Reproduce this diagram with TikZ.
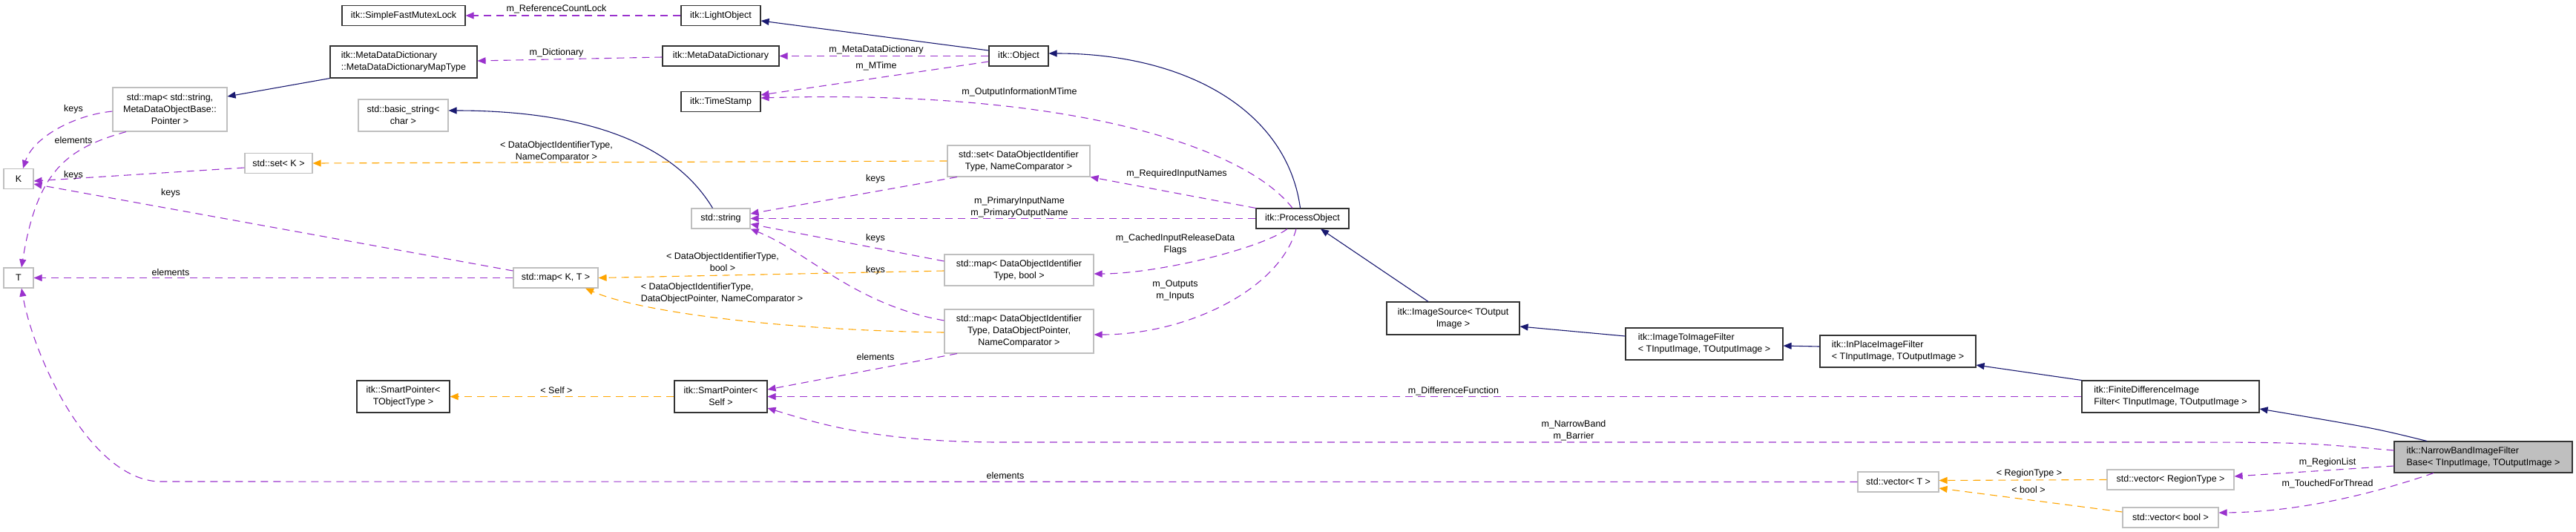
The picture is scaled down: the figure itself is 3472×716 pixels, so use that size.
\documentclass[tikz,border=0pt]{standalone}
\usepackage{fontspec}
\setmainfont{Liberation Sans}
\usetikzlibrary{arrows.meta,positioning}
\definecolor{usecol}{HTML}{9A32CD}
\definecolor{tmplcol}{HTML}{FFA500}
\definecolor{inhcol}{HTML}{191970}
\definecolor{extgray}{HTML}{BFBFBF}
\tikzset{
    every node/.style={font=\fontsize{12.5}{16}\selectfont},
    cls/.style={draw=black!80,fill=white,line width=1.1pt,inner sep=0pt,minimum height=27pt,align=left},
    extcls/.style={cls,draw=extgray,align=center},
    curcls/.style={cls,fill=extgray},
    usage/.style={usecol,line width=1.1pt,dash pattern=on 10pt off 7pt,-{Triangle[length=11pt,width=9pt]}},
    tmpl/.style={usage,tmplcol},
    inherit/.style={inhcol,line width=1.1pt,-{Triangle[length=11pt,width=9pt]}},
    lab/.style={inner sep=0pt,align=center},
}
\begin{document}
\begin{tikzpicture}[x=1pt,y=-1pt]
                \useasboundingbox (0,0) rectangle (3472,716);
                % classes
                \node[cls,minimum width=166pt] (mutex) at (544,21) {itk::SimpleFastMutexLock};
                \node[cls,minimum width=198pt,minimum height=43pt] (maptype) at (544,83.5) {itk::MetaDataDictionary\\::MetaDataDictionaryMapType};
                \node[extcls,minimum width=154pt,minimum height=59pt] (mapstr) at (229,147.5) {std::map< std::string,\\MetaDataObjectBase::\\Pointer >};
                \node[extcls,minimum width=121pt,minimum height=43pt] (basicstr) at (543.5,155.5) {std::basic\_string<\\char >};
                \node[extcls,minimum width=91pt] (setk) at (375.5,220) {std::set< K >};
                \node[extcls,minimum width=40pt] (K) at (25,241) {K};
                \node[extcls,minimum width=40pt] (T) at (25,374.5) {T};
                \node[cls,align=center,minimum width=125pt,minimum height=43pt] (sptobj) at (543.5,534.5) {itk::SmartPointer<\\TObjectType >};
                \node[cls,minimum width=107pt] (light) at (971.5,21) {itk::LightObject};
                \node[cls,minimum width=157pt] (mdd) at (971.5,75.5) {itk::MetaDataDictionary};
                \node[cls,minimum width=107pt] (stamp) at (971.5,137) {itk::TimeStamp};
                \node[extcls,minimum width=79pt] (string) at (971.5,294.5) {std::string};
                \node[extcls,minimum width=114pt] (mapkt) at (749,374.5) {std::map< K, T >};
                \node[cls,align=center,minimum width=125pt,minimum height=43pt] (spself) at (971.5,534.5) {itk::SmartPointer<\\Self >};
                \node[cls,minimum width=80pt] (object) at (1373,75.5) {itk::Object};
                \node[extcls,minimum width=192pt,minimum height=42pt] (setdo) at (1373,217) {std::set< DataObjectIdentifier\\Type, NameComparator >};
                \node[extcls,minimum width=201pt,minimum height=42pt] (mapbool) at (1373.5,364) {std::map< DataObjectIdentifier\\Type, bool >};
                \node[extcls,minimum width=201pt,minimum height=59pt] (mapdop) at (1373.5,446.5) {std::map< DataObjectIdentifier\\Type, DataObjectPointer,\\NameComparator >};
                \node[cls,minimum width=125pt] (process) at (1755.5,294.5) {itk::ProcessObject};
                \node[cls,align=center,minimum width=179pt,minimum height=44pt] (source) at (1958.5,429) {itk::ImageSource< TOutput\\Image >};
                \node[cls,minimum width=212pt,minimum height=43pt] (imgtoimg) at (2297,463.5) {itk::ImageToImageFilter\\< TInputImage, TOutputImage >};
                \node[cls,minimum width=210pt,minimum height=43pt] (inplace) at (2558,473.5) {itk::InPlaceImageFilter\\< TInputImage, TOutputImage >};
                \node[cls,minimum width=239pt,minimum height=43pt] (fdif) at (2925.5,534.5) {itk::FiniteDifferenceImage\\Filter< TInputImage, TOutputImage >};
                \node[curcls,minimum width=240pt,minimum height=42pt] (narrow) at (3347,616) {itk::NarrowBandImageFilter\\Base< TInputImage, TOutputImage >};
                \node[extcls,minimum width=109pt] (vect) at (2558.5,649.5) {std::vector< T >};
                \node[extcls,minimum width=171pt] (vecregion) at (2925.5,646.5) {std::vector< RegionType >};
                \node[extcls,minimum width=129pt] (vecbool) at (2925.5,697.5) {std::vector< bool >};
                % inheritance
                \draw[inherit] ([yshift=7.5pt]object.west) -- ([yshift=-7pt]light.east);
                \draw[inherit] ([xshift=-3pt]process.north) .. controls (1735,150) and (1600,72) .. ([yshift=3.5pt]object.east);
                \draw[inherit] (maptype.south west) -- ([yshift=17.5pt]mapstr.east);
                \draw[inherit] ([xshift=-11pt]string.north) .. controls (900,180) and (760,149) .. ([yshift=6.5pt]basicstr.east);
                \draw[inherit] ([xshift=-33.5pt]source.north) -- ([xshift=24.5pt]process.south);
                \draw[inherit] ([yshift=10.5pt]imgtoimg.west) -- ([yshift=-11pt]source.east);
                \draw[inherit] ([yshift=6.5pt]inplace.west) -- ([yshift=-2.5pt]imgtoimg.east);
                \draw[inherit] (fdif.north west) -- ([yshift=-18.5pt]inplace.east);
                \draw[inherit] ([xshift=-76pt]narrow.north) .. controls (3200,577) .. ([yshift=-16.5pt]fdif.east);
                % members
                \draw[usage] (light.west) -- (mutex.east);
                \draw[usage] (object.west) -- (mdd.east);
                \draw[usage] ([yshift=-7.5pt]object.west) -- ([yshift=9pt]stamp.east);
                \draw[usage] ([xshift=-13.5pt]process.north) .. controls (1680,200) and (1450,120) .. ([yshift=5pt]stamp.east);
                \draw[usage] ([yshift=-1.5pt]mdd.west) -- ([yshift=1.5pt]maptype.east);
                \draw[usage] ([xshift=-83pt]setdo.south) -- ([yshift=6.5pt]string.east);
                \draw[usage] (process.north west) -- (setdo.south east);
                \draw[usage] (process.west) -- (string.east);
                \draw[usage] ([xshift=-20.5pt]process.south) .. controls (1700,335) and (1560,369) .. ([yshift=-5pt]mapbool.east);
                \draw[usage] ([xshift=-8.5pt]process.south) .. controls (1725,390) and (1600,451) .. ([yshift=-4.5pt]mapdop.east);
                \draw[usage] ([yshift=12pt]mapbool.west) -- ([yshift=-7.5pt]string.east);
                \draw[usage] ([yshift=14.5pt]mapdop.west) .. controls (1150,410) and (1090,340) .. (string.south east);
                \draw[usage] ([xshift=-83.5pt]mapdop.south) -- ([yshift=9.5pt]spself.east);
                \draw[usage] ([yshift=9.5pt]mapkt.west) -- ([yshift=-7pt]K.east);
                \draw[usage] (mapkt.west) -- (T.east);
                \draw[usage] ([yshift=-6pt]setk.west) -- ([yshift=-3pt]K.east);
                \draw[usage] ([yshift=-2.5pt]mapstr.west) .. controls (100,155) and (45,185) .. ([xshift=6pt]K.north);
                \draw[usage] ([xshift=-59pt]mapstr.south) .. controls (90,200) and (50,230) .. ([xshift=4pt]T.north);
                \draw[usage] (fdif.west) -- (spself.east);
                \draw[usage] ([yshift=9pt]narrow.west) .. controls (3100,596) .. (2900,596) -- (1350,596) .. controls (1180,596) and (1100,570) .. ([yshift=-15.5pt]spself.east);
                \draw[usage] (vect.west) -- (214,649) .. controls (120,645) and (45,480) .. ([xshift=4pt]T.south);
                \draw[usage] ([yshift=-12pt]narrow.west) -- ([yshift=4.5pt]vecregion.east);
                \draw[usage] ([xshift=-67pt]narrow.south) .. controls (3200,665) and (3100,690) .. ([yshift=6.5pt]vecbool.east);
                % template instances
                \draw[tmpl] (setdo.west) -- (setk.east);
                \draw[tmpl] ([yshift=-1pt]mapbool.west) -- (mapkt.east);
                \draw[tmpl] ([yshift=-1.5pt]mapdop.west) .. controls (1050,445) and (860,420) .. ([xshift=40pt]mapkt.south);
                \draw[tmpl] (spself.west) -- (sptobj.east);
                \draw[tmpl] (vecregion.west) -- ([yshift=2pt]vect.east);
                \draw[tmpl] ([yshift=7.5pt]vecbool.west) -- ([yshift=-8.5pt]vect.east);
                % edge labels
                \node[lab] (l1) at (750,12) {m\_ReferenceCountLock};
                \node[lab] (l2) at (750,71) {m\_Dictionary};
                \node[lab] (l3) at (1181,67) {m\_MetaDataDictionary};
                \node[lab] (l4) at (1181,89) {m\_MTime};
                \node[lab] (l5) at (1374,124) {m\_OutputInformationMTime};
                \node[lab] (l6) at (750,204) {< DataObjectIdentifierType,\\NameComparator >};
                \node[lab] (l7) at (1180,241) {keys};
                \node[lab] (l8) at (1586,234) {m\_RequiredInputNames};
                \node[lab] (l9) at (1374,279) {m\_PrimaryInputName\\m\_PrimaryOutputName};
                \node[lab] (l10) at (1180,321) {keys};
                \node[lab] (l11) at (1584,329) {m\_CachedInputReleaseData\\Flags};
                \node[lab] (l12) at (974,353) {< DataObjectIdentifierType,\\bool >};
                \node[lab] (l13) at (1180,364) {keys};
                \node[lab] (l14) at (1584,391) {m\_Outputs\\m\_Inputs};
                \node[lab,align=left] (l15) at (973,395) {< DataObjectIdentifierType,\\DataObjectPointer, NameComparator >};
                \node[lab] (l16) at (1180,481) {elements};
                \node[lab] (l17) at (750,526) {< Self >};
                \node[lab] (l18) at (1959,527) {m\_DifferenceFunction};
                \node[lab] (l19) at (2121,580) {m\_NarrowBand\\m\_Barrier};
                \node[lab] (l20) at (1355,641) {elements};
                \node[lab] (l21) at (99,147) {keys};
                \node[lab] (l22) at (99,189) {elements};
                \node[lab] (l23) at (99,236) {keys};
                \node[lab] (l24) at (230,260) {keys};
                \node[lab] (l25) at (230,367) {elements};
                \node[lab] (l26) at (2735,638) {< RegionType >};
                \node[lab] (l27) at (2734,660) {< bool >};
                \node[lab] (l28) at (3137,623) {m\_RegionList};
                \node[lab] (l29) at (3137,652) {m\_TouchedForThread};
\end{tikzpicture}
\end{document}
